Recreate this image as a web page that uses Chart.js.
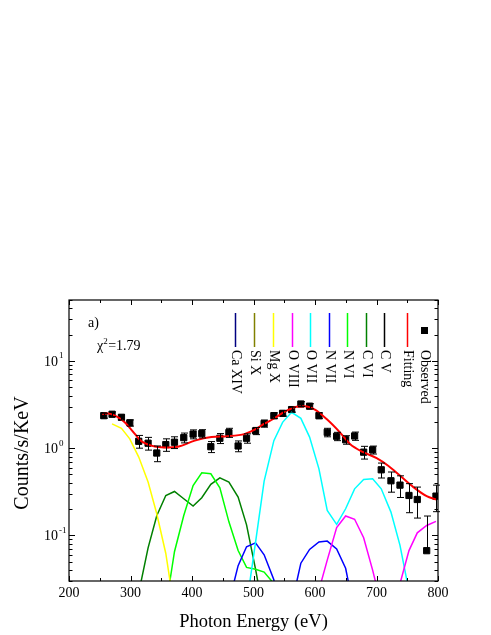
<!DOCTYPE html>
<html><head><meta charset="utf-8">
<script src="https://cdn.jsdelivr.net/npm/chart.js@4.4.1/dist/chart.umd.min.js"></script>
<style>html,body{margin:0;padding:0;background:#fff}canvas{display:block}</style>
</head><body>
<canvas id="c" width="491" height="635"></canvas>
<script>
// ---- data ----
const energy = [256.5,270,285.3,298.8,313.4,328.6,342.7,357.4,371.5,386.6,401.8,415.9,430.6,445.3,460,475,488.7,503.3,517.3,533.1,547.3,561.9,577,591.2,606.4,619.9,635.2,649.8,664.4,679.1,693.7,707.7,723.5,738.2,752.8,766.3,781.6,796.7];
const observed = [2.36,2.45,2.26,1.95,1.20,1.14,0.88,1.10,1.17,1.32,1.45,1.47,1.04,1.30,1.51,1.06,1.30,1.58,1.92,2.36,2.51,2.77,3.21,3.03,2.36,1.52,1.37,1.25,1.38,0.90,0.957,0.565,0.423,0.377,0.287,0.258,0.0668,0.282];
const obsError = [0.15,0.15,0.15,0.16,0.20,0.19,0.18,0.18,0.18,0.17,0.17,0.16,0.15,0.17,0.18,0.15,0.16,0.15,0.18,0.18,0.18,0.18,0.2,0.2,0.18,0.17,0.15,0.14,0.15,0.15,0.10,0.11,0.11,0.105,0.105,0.10,0.10,0.095];

const fitEnergy = [254,264,274.4,282.5,290.6,298.8,307,315,323.2,334,344.8,355.7,377,404.5,431.7,458.7,486,502,518.5,532,553.8,570,583.5,599.8,618.9,640.5,656.8,678.5,700.3,719,738,760,781.6,796.7];
const fitValues = [2.47,2.49,2.36,2.20,1.98,1.71,1.46,1.25,1.14,1.07,1.03,1.02,1.04,1.22,1.34,1.37,1.46,1.63,1.92,2.16,2.69,2.99,3.03,2.77,2.16,1.52,1.12,0.90,0.77,0.63,0.486,0.358,0.282,0.258];

const caXIV = [];
const siX = [];
const cV = [];
const mgX  = [null,1.90,1.69,1.28,0.79,0.41,0.177,0.062,0.014,null,null,null,null,null,null,null,null,null,null,null,null,null,null,null,null,null,null,null,null,null,null,null,null,null,null,null,null,null];
const cVI  = [null,null,null,null,0.022,0.072,0.168,0.287,0.319,0.263,0.217,0.270,0.385,0.457,0.408,0.275,0.132,0.041,0.012,null,null,null,null,null,null,null,null,null,null,null,null,null,null,null,null,null,null,null];
const nVI  = [null,null,null,null,null,null,null,0.015,0.065,0.169,0.373,0.521,0.508,0.351,0.143,0.067,0.043,0.041,0.038,0.028,null,null,null,null,null,null,null,null,null,null,null,null,null,null,null,null,null,null];
const nVII = [null,null,null,null,null,null,null,null,null,null,null,null,null,null,0.017,0.045,0.074,0.082,0.060,0.031,0.005,0.016,0.048,0.069,0.084,0.086,0.070,0.042,0.013,null,null,null,null,null,null,null,null,null];
const oVII = [null,null,null,null,null,null,null,null,null,null,null,null,null,null,null,null,0.016,0.083,0.42,1.22,1.98,2.58,2.20,1.34,0.58,0.193,0.134,0.202,0.342,0.437,0.446,0.342,0.185,0.077,0.023,null,null,null];
const oVIII= [null,null,null,null,null,null,null,null,null,null,null,null,null,null,null,null,null,null,null,null,null,null,null,null,0.0236,0.052,0.123,0.167,0.153,0.094,0.040,0.016,0.01,0.028,0.067,0.107,0.130,0.145];

const xTickValues = [200,300,400,500,600,700,800];
const yTickValues = [0.1,1,10];
const yTickExponents = ['-1','0','1'];
const legendLabels = ['Ca XIV','Si X','Mg X','O VIII','O VII','N VII','N VI','C VI','C V','Fitting','Observed'];

// ---- build datasets ----
const pts = (arr) => energy.map((x,i) => ({x, y: (arr[i] === undefined ? null : arr[i])}));
const FONT = 'Liberation Serif';
function comp(label, arr, color){
  return {label, data: arr.length ? pts(arr) : [], borderColor: color, backgroundColor: color,
    borderWidth: 1.5, pointRadius: 0, tension: 0, spanGaps: false, clip: 0};
}
const datasets = [
  comp('Ca XIV', caXIV, '#000080'),
  comp('Si X', siX, '#808000'),
  comp('Mg X', mgX, '#FFFF00'),
  comp('O VIII', oVIII, '#FF00FF'),
  comp('O VII', oVII, '#00FFFF'),
  comp('N VII', nVII, '#0000FF'),
  comp('N VI', nVI, '#00FF00'),
  comp('C VI', cVI, '#008000'),
  comp('C V', cV, '#000000'),
  {label:'Fitting', data: fitEnergy.map((x,i)=>({x, y: fitValues[i]})), borderColor:'#FF0000', backgroundColor:'#FF0000',
   borderWidth: 2, pointRadius: 0, cubicInterpolationMode:'monotone', clip: 0},
  {label:'Observed', data: pts(observed), showLine:false, pointStyle:'rect', pointRadius:4.4,
   pointBackgroundColor:'#000', pointBorderColor:'#000', pointBorderWidth:1, borderColor:'#000', backgroundColor:'#000'}
];

// ---- plugins ----
const errorBars = {
  id:'errorBars',
  afterDatasetsDraw(chart){
    const ctx = chart.ctx, xs = chart.scales.x, ys = chart.scales.y;
    ctx.save();
    ctx.strokeStyle = '#000'; ctx.lineWidth = 1;
    energy.forEach((e,i)=>{
      const v = observed[i], err = obsError[i];
      const x = Math.round(xs.getPixelForValue(e)) + 0.5;
      const yTop = ys.getPixelForValue(v + err);
      const yBot = (v - err) > 0 ? ys.getPixelForValue(v - err) : ys.getPixelForValue(v);
      ctx.beginPath();
      ctx.moveTo(x, yTop); ctx.lineTo(x, yBot);
      ctx.moveTo(x-3.5, yTop); ctx.lineTo(x+3.5, yTop);
      if ((v - err) > 0){ ctx.moveTo(x-3.5, yBot); ctx.lineTo(x+3.5, yBot); }
      ctx.stroke();
    });
    ctx.restore();
  }
};

const frame = {
  id:'frame',
  afterDraw(chart){
    const ctx = chart.ctx, a = chart.chartArea, xs = chart.scales.x, ys = chart.scales.y;
    ctx.save();
    ctx.strokeStyle = '#000'; ctx.lineWidth = 1.2;
    ctx.strokeRect(a.left, a.top, a.right - a.left, a.bottom - a.top);
    ctx.lineWidth = 1;
    ctx.beginPath();
    // x ticks (major + minor), inward on bottom and top
    for (let v = 200; v <= 800; v += 50){
      const x = Math.round(xs.getPixelForValue(v)) + 0.5;
      const len = (v % 100 === 0) ? 5 : 3;
      ctx.moveTo(x, a.bottom); ctx.lineTo(x, a.bottom - len);
      ctx.moveTo(x, a.top); ctx.lineTo(x, a.top + len);
    }
    // y ticks on log scale
    for (let d = -2; d <= 1; d++){
      for (let k = 1; k <= 9; k++){
        const v = k * Math.pow(10, d);
        if (v < ys.min - 1e-9 || v > ys.max + 1e-9) continue;
        const y = Math.round(ys.getPixelForValue(v)) + 0.5;
        const len = (k === 1) ? 6 : 3.5;
        ctx.moveTo(a.left, y); ctx.lineTo(a.left + len, y);
        ctx.moveTo(a.right, y); ctx.lineTo(a.right - len, y);
      }
    }
    ctx.stroke();

    // y tick labels 10^n
    ctx.fillStyle = '#000';
    yTickValues.forEach((v,i)=>{
      const y = ys.getPixelForValue(v);
      ctx.font = '14px "' + FONT + '"';
      ctx.textAlign = 'left'; ctx.textBaseline = 'middle';
      ctx.fillText('10', 44, y + 1);
      const w = ctx.measureText('10').width;
      ctx.font = '9px "' + FONT + '"';
      ctx.fillText(yTickExponents[i], 44 + w + 1, y - 5);
    });

    // y axis title
    ctx.save();
    ctx.translate(23, 453);
    ctx.rotate(-Math.PI/2);
    ctx.font = '20px "' + FONT + '"';
    ctx.textAlign = 'center'; ctx.textBaseline = 'middle';
    ctx.fillText('Counts/s/KeV', 0, 0);
    ctx.restore();

    // annotations
    ctx.font = '14px "' + FONT + '"';
    ctx.textAlign = 'left'; ctx.textBaseline = 'alphabetic';
    ctx.fillText('a)', a.left + 19, 327);
    ctx.fillText('\u03C7', a.left + 28, 350);
    const cw = ctx.measureText('\u03C7').width;
    ctx.font = '9px "' + FONT + '"';
    ctx.fillText('2', a.left + 28 + cw, 344);
    ctx.font = '14px "' + FONT + '"';
    ctx.fillText('=1.79', a.left + 28 + cw + 5, 350);

    // legend (rotated text)
    const offsets = [166,185,203.7,222.7,241,259.7,278,296.7,315.3,337.7,355.3];
    legendLabels.forEach((lab,i)=>{
      const ds = chart.data.datasets.find(d => d.label === lab);
      const x = Math.round(a.left + offsets[i]) + 0.5;
      if (lab === 'Observed'){
        ctx.fillStyle = '#000';
        ctx.fillRect(x - 3.5, a.top + 27, 7, 7);
      } else {
        ctx.strokeStyle = ds.borderColor; ctx.lineWidth = 1.5;
        ctx.beginPath(); ctx.moveTo(x, a.top + 13); ctx.lineTo(x, a.top + 47); ctx.stroke();
      }
      ctx.save();
      ctx.fillStyle = '#000';
      ctx.translate(x, a.top + 50);
      ctx.rotate(Math.PI/2);
      ctx.font = '14px "' + FONT + '"';
      ctx.textAlign = 'left'; ctx.textBaseline = 'middle';
      ctx.fillText(lab, 0, 0);
      ctx.restore();
    });
    ctx.restore();
  }
};

new Chart(document.getElementById('c'), {
  type: 'line',
  data: { datasets },
  options: {
    responsive: false,
    animation: false,
    devicePixelRatio: 1,
    layout: { padding: { top: 300, right: 53, bottom: 0, left: 0 } },
    plugins: { legend: { display: false }, tooltip: { enabled: false } },
    scales: {
      x: {
        type: 'linear', min: 200, max: 800,
        afterBuildTicks: (s) => { s.ticks = xTickValues.map(v => ({value: v})); },
        ticks: { font: { family: FONT, size: 14 }, color: '#000', padding: 4, maxRotation: 0, autoSkip: false },
        grid: { display: false, drawTicks: false },
        border: { display: false },
        title: { display: true, text: 'Photon Energy (eV)', color: '#000', font: { family: FONT, size: 18.5 }, padding: { top: 0, bottom: 2 } },
        afterFit: (s) => { s.height = 54; }
      },
      y: {
        type: 'logarithmic', min: 0.03, max: 50,
        ticks: { display: false },
        grid: { display: false, drawTicks: false },
        border: { display: false },
        afterFit: (s) => { s.width = 69; }
      }
    }
  },
  plugins: [errorBars, frame]
});
</script>
</body></html>
